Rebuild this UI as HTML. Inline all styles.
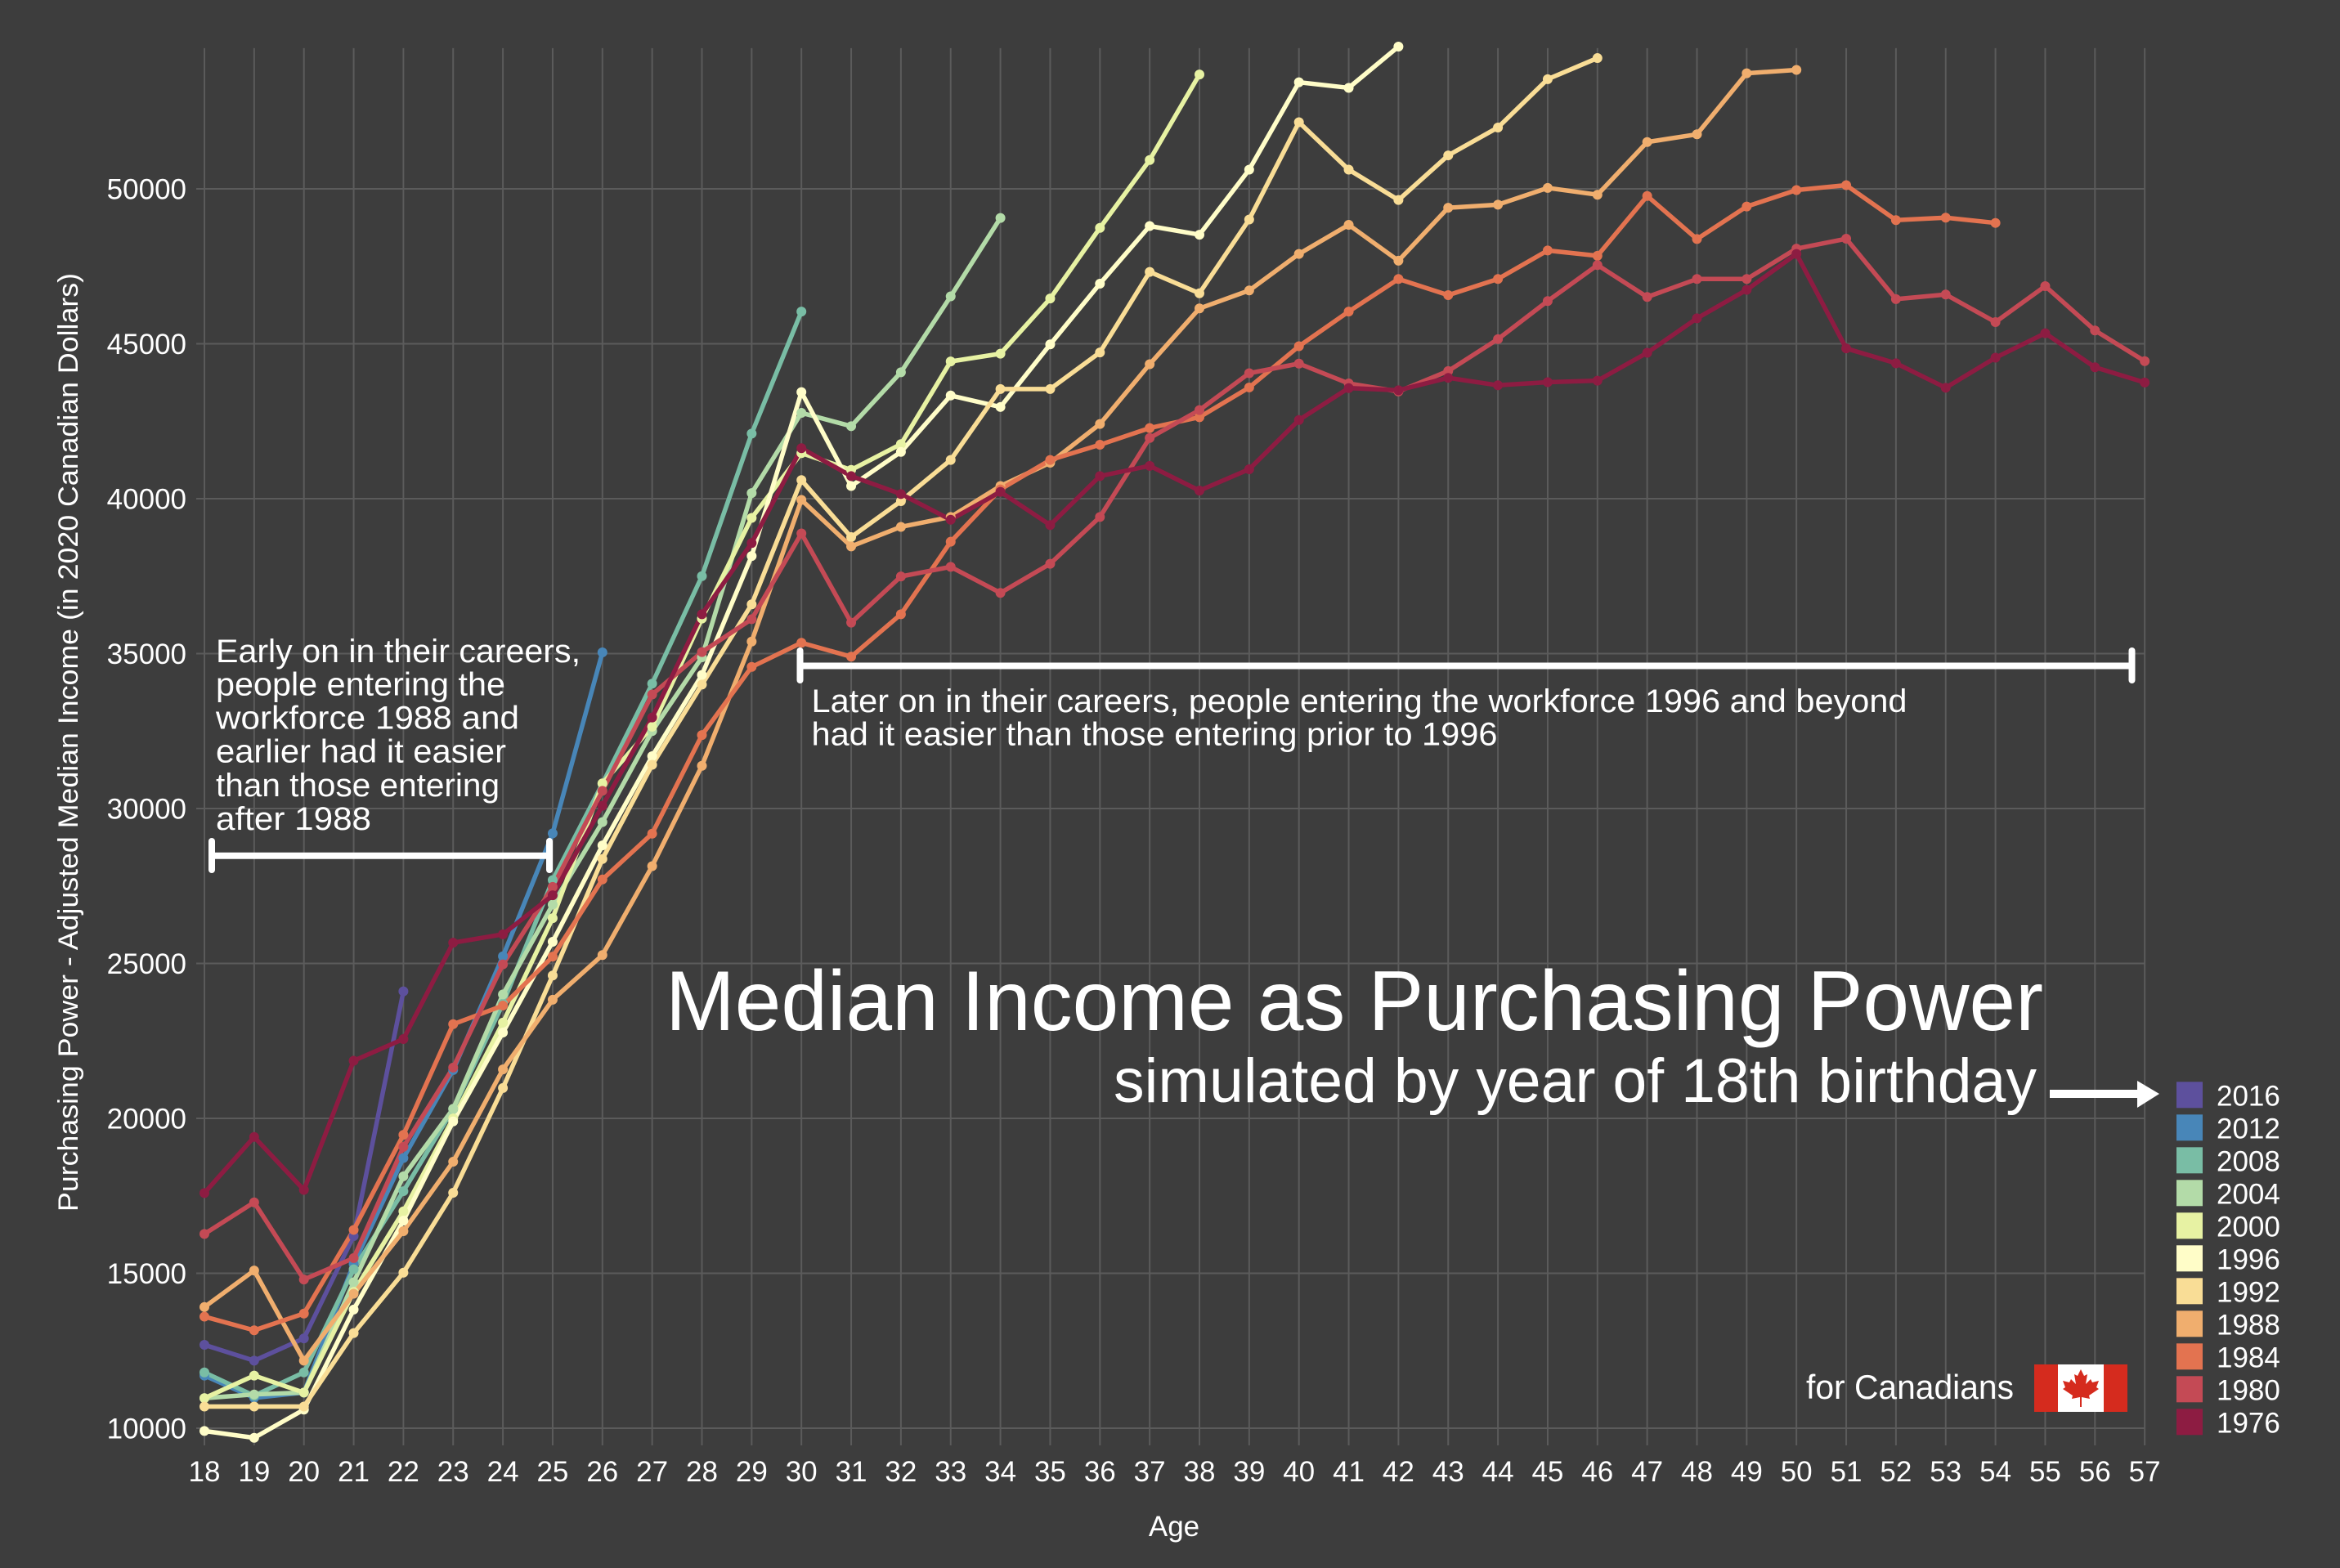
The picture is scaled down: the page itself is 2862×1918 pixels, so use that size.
<!DOCTYPE html>
<html><head><meta charset="utf-8"><style>
html,body{margin:0;padding:0;background:#3D3D3D;}
svg{display:block;}
text{font-family:"Liberation Sans",Arial,sans-serif;fill:#ffffff;}
.ln{fill:none;stroke-width:5.5;stroke-linejoin:round;stroke-linecap:round;}
.pt{fill:none;stroke-width:12;stroke-linecap:round;}
</style></head><body>
<svg width="2862" height="1918" viewBox="0 0 2862 1918" xmlns="http://www.w3.org/2000/svg">
<rect x="0" y="0" width="2862" height="1918" fill="#3D3D3D"/>
<g transform="matrix(60.85 0 0 -37.9 -845.3 2126)">
<path vector-effect="non-scaling-stroke" stroke="#5B5B5B" stroke-width="2" fill="none" d="M17.836 10H57M17.836 15H57M17.836 20H57M17.836 25H57M17.836 30H57M17.836 35H57M17.836 40H57M17.836 45H57M17.836 50H57
M18 9.446V54.54M19 9.446V54.54M20 9.446V54.54M21 9.446V54.54M22 9.446V54.54M23 9.446V54.54M24 9.446V54.54M25 9.446V54.54M26 9.446V54.54M27 9.446V54.54
M28 9.446V54.54M29 9.446V54.54M30 9.446V54.54M31 9.446V54.54M32 9.446V54.54M33 9.446V54.54M34 9.446V54.54M35 9.446V54.54M36 9.446V54.54M37 9.446V54.54
M38 9.446V54.54M39 9.446V54.54M40 9.446V54.54M41 9.446V54.54M42 9.446V54.54M43 9.446V54.54M44 9.446V54.54M45 9.446V54.54M46 9.446V54.54M47 9.446V54.54
M48 9.446V54.54M49 9.446V54.54M50 9.446V54.54M51 9.446V54.54M52 9.446V54.54M53 9.446V54.54M54 9.446V54.54M55 9.446V54.54M56 9.446V54.54M57 9.446V54.54"/>

<!-- lines -->
<polyline class="ln" vector-effect="non-scaling-stroke" stroke="#5D509D" points="18,12.69 19,12.18 20,12.90 21,16.2 22,24.10"/>
<polyline class="ln" vector-effect="non-scaling-stroke" stroke="#4886B8" points="18,11.70 19,10.98 20,11.15 21,15.3 22,18.72 23,21.56 24,25.23 25,29.20 26,35.04"/>
<polyline class="ln" vector-effect="non-scaling-stroke" stroke="#79BDA5" points="18,11.80 19,11.05 20,11.80 21,15.13 22,17.65 23,20.30 24,23.70 25,27.69 26,30.8 27,34.03 28,37.5 29,42.1 30,46.04"/>
<polyline class="ln" vector-effect="non-scaling-stroke" stroke="#B3DBA8" points="18,10.97 19,11.09 20,11.15 21,14.71 22,18.13 23,20.31 24,24.0 25,26.9 26,29.56 27,32.5 28,34.88 29,40.18 30,42.77 31,42.34 32,44.08 33,46.53 34,49.06"/>
<polyline class="ln" vector-effect="non-scaling-stroke" stroke="#E7F2A3" points="18,10.97 19,11.70 20,11.15 21,14.4 22,17.0 23,20.0 24,23.09 25,26.46 26,30.81 27,32.64 28,36.13 29,39.38 30,41.47 31,40.93 32,41.76 33,44.43 34,44.68 35,46.46 36,48.74 37,50.93 38,53.69"/>
<polyline class="ln" vector-effect="non-scaling-stroke" stroke="#FFFDC8" points="18,9.91 19,9.69 20,10.60 21,13.83 22,16.7 23,19.9 24,22.77 25,25.7 26,28.81 27,31.69 28,34.31 29,38.15 30,43.44 31,40.41 32,41.51 33,43.33 34,42.96 35,44.98 36,46.94 37,48.80 38,48.52 39,50.62 40,53.44 41,53.26 42,54.59"/>
<polyline class="ln" vector-effect="non-scaling-stroke" stroke="#F9DD96" points="18,10.70 19,10.70 20,10.70 21,13.07 22,15.02 23,17.60 24,20.98 25,24.61 26,28.37 27,31.41 28,34.0 29,36.59 30,40.60 31,38.76 32,39.92 33,41.25 34,43.54 35,43.54 36,44.72 37,47.32 38,46.63 39,49.01 40,52.15 41,50.62 42,49.64 43,51.08 44,51.98 45,53.54 46,54.22"/>
<polyline class="ln" vector-effect="non-scaling-stroke" stroke="#F0AE6E" points="18,13.91 19,15.09 20,12.18 21,14.34 22,16.36 23,18.60 24,21.58 25,23.83 26,25.27 27,28.14 28,31.38 29,35.39 30,39.96 31,38.46 32,39.09 33,39.41 34,40.41 35,41.16 36,42.41 37,44.34 38,46.14 39,46.72 40,47.90 41,48.84 42,47.68 43,49.39 44,49.49 45,50.03 46,49.81 47,51.51 48,51.76 49,53.73 50,53.84"/>
<polyline class="ln" vector-effect="non-scaling-stroke" stroke="#E37350" points="18,13.60 19,13.16 20,13.70 21,16.40 22,19.47 23,23.04 24,23.64 25,25.22 26,27.71 27,29.19 28,32.37 29,34.57 30,35.35 31,34.90 32,36.27 33,38.61 34,40.30 35,41.25 36,41.74 37,42.28 38,42.63 39,43.59 40,44.92 41,46.04 42,47.09 43,46.57 44,47.09 45,48.01 46,47.84 47,49.77 48,48.38 49,49.43 50,49.96 51,50.12 52,48.99 53,49.07 54,48.90"/>
<polyline class="ln" vector-effect="non-scaling-stroke" stroke="#C44A55" points="18,16.27 19,17.29 20,14.80 21,15.49 22,19.08 23,21.64 24,24.97 25,27.47 26,30.57 27,33.68 28,35.05 29,36.11 30,38.88 31,36.00 32,37.49 33,37.80 34,36.96 35,37.90 36,39.41 37,41.96 38,42.86 39,44.05 40,44.36 41,43.72 42,43.46 43,44.12 44,45.15 45,46.38 46,47.54 47,46.51 48,47.09 49,47.09 50,48.07 51,48.39 52,46.44 53,46.59 54,45.70 55,46.86 56,45.43 57,44.44"/>
<polyline class="ln" vector-effect="non-scaling-stroke" stroke="#8D1C42" points="18,17.59 19,19.40 20,17.69 21,21.86 22,22.56 23,25.67 24,25.94 25,27.20 26,30.09 27,32.94 28,36.27 29,38.57 30,41.63 31,40.73 32,40.15 33,39.32 34,40.22 35,39.15 36,40.73 37,41.06 38,40.26 39,40.95 40,42.54 41,43.57 42,43.50 43,43.90 44,43.66 45,43.76 46,43.81 47,44.71 48,45.82 49,46.74 50,47.90 51,44.85 52,44.37 53,43.58 54,44.55 55,45.34 56,44.24 57,43.75"/>

<!-- points -->
<path class="pt" vector-effect="non-scaling-stroke" stroke="#5D509D" d="M18 12.69h0M19 12.18h0M20 12.90h0M21 16.2h0M22 24.10h0"/>
<path class="pt" vector-effect="non-scaling-stroke" stroke="#4886B8" d="M18 11.70h0M19 10.98h0M20 11.15h0M21 15.3h0M22 18.72h0M23 21.56h0M24 25.23h0M25 29.20h0M26 35.04h0"/>
<path class="pt" vector-effect="non-scaling-stroke" stroke="#79BDA5" d="M18 11.80h0M19 11.05h0M20 11.80h0M21 15.13h0M22 17.65h0M23 20.30h0M24 23.70h0M25 27.69h0M26 30.8h0M27 34.03h0M28 37.5h0M29 42.1h0M30 46.04h0"/>
<path class="pt" vector-effect="non-scaling-stroke" stroke="#B3DBA8" d="M18 10.97h0M19 11.09h0M20 11.15h0M21 14.71h0M22 18.13h0M23 20.31h0M24 24.0h0M25 26.9h0M26 29.56h0M27 32.5h0M28 34.88h0M29 40.18h0M30 42.77h0M31 42.34h0M32 44.08h0M33 46.53h0M34 49.06h0"/>
<path class="pt" vector-effect="non-scaling-stroke" stroke="#E7F2A3" d="M18 10.97h0M19 11.70h0M20 11.15h0M21 14.4h0M22 17.0h0M23 20.0h0M24 23.09h0M25 26.46h0M26 30.81h0M27 32.64h0M28 36.13h0M29 39.38h0M30 41.47h0M31 40.93h0M32 41.76h0M33 44.43h0M34 44.68h0M35 46.46h0M36 48.74h0M37 50.93h0M38 53.69h0"/>
<path class="pt" vector-effect="non-scaling-stroke" stroke="#FFFDC8" d="M18 9.91h0M19 9.69h0M20 10.60h0M21 13.83h0M22 16.7h0M23 19.9h0M24 22.77h0M25 25.7h0M26 28.81h0M27 31.69h0M28 34.31h0M29 38.15h0M30 43.44h0M31 40.41h0M32 41.51h0M33 43.33h0M34 42.96h0M35 44.98h0M36 46.94h0M37 48.80h0M38 48.52h0M39 50.62h0M40 53.44h0M41 53.26h0M42 54.59h0"/>
<path class="pt" vector-effect="non-scaling-stroke" stroke="#F9DD96" d="M18 10.70h0M19 10.70h0M20 10.70h0M21 13.07h0M22 15.02h0M23 17.60h0M24 20.98h0M25 24.61h0M26 28.37h0M27 31.41h0M28 34.0h0M29 36.59h0M30 40.60h0M31 38.76h0M32 39.92h0M33 41.25h0M34 43.54h0M35 43.54h0M36 44.72h0M37 47.32h0M38 46.63h0M39 49.01h0M40 52.15h0M41 50.62h0M42 49.64h0M43 51.08h0M44 51.98h0M45 53.54h0M46 54.22h0"/>
<path class="pt" vector-effect="non-scaling-stroke" stroke="#F0AE6E" d="M18 13.91h0M19 15.09h0M20 12.18h0M21 14.34h0M22 16.36h0M23 18.60h0M24 21.58h0M25 23.83h0M26 25.27h0M27 28.14h0M28 31.38h0M29 35.39h0M30 39.96h0M31 38.46h0M32 39.09h0M33 39.41h0M34 40.41h0M35 41.16h0M36 42.41h0M37 44.34h0M38 46.14h0M39 46.72h0M40 47.90h0M41 48.84h0M42 47.68h0M43 49.39h0M44 49.49h0M45 50.03h0M46 49.81h0M47 51.51h0M48 51.76h0M49 53.73h0M50 53.84h0"/>
<path class="pt" vector-effect="non-scaling-stroke" stroke="#E37350" d="M18 13.60h0M19 13.16h0M20 13.70h0M21 16.40h0M22 19.47h0M23 23.04h0M24 23.64h0M25 25.22h0M26 27.71h0M27 29.19h0M28 32.37h0M29 34.57h0M30 35.35h0M31 34.90h0M32 36.27h0M33 38.61h0M34 40.30h0M35 41.25h0M36 41.74h0M37 42.28h0M38 42.63h0M39 43.59h0M40 44.92h0M41 46.04h0M42 47.09h0M43 46.57h0M44 47.09h0M45 48.01h0M46 47.84h0M47 49.77h0M48 48.38h0M49 49.43h0M50 49.96h0M51 50.12h0M52 48.99h0M53 49.07h0M54 48.90h0"/>
<path class="pt" vector-effect="non-scaling-stroke" stroke="#C44A55" d="M18 16.27h0M19 17.29h0M20 14.80h0M21 15.49h0M22 19.08h0M23 21.64h0M24 24.97h0M25 27.47h0M26 30.57h0M27 33.68h0M28 35.05h0M29 36.11h0M30 38.88h0M31 36.00h0M32 37.49h0M33 37.80h0M34 36.96h0M35 37.90h0M36 39.41h0M37 41.96h0M38 42.86h0M39 44.05h0M40 44.36h0M41 43.72h0M42 43.46h0M43 44.12h0M44 45.15h0M45 46.38h0M46 47.54h0M47 46.51h0M48 47.09h0M49 47.09h0M50 48.07h0M51 48.39h0M52 46.44h0M53 46.59h0M54 45.70h0M55 46.86h0M56 45.43h0M57 44.44h0"/>
<path class="pt" vector-effect="non-scaling-stroke" stroke="#8D1C42" d="M18 17.59h0M19 19.40h0M20 17.69h0M21 21.86h0M22 22.56h0M23 25.67h0M24 25.94h0M25 27.20h0M26 30.09h0M27 32.94h0M28 36.27h0M29 38.57h0M30 41.63h0M31 40.73h0M32 40.15h0M33 39.32h0M34 40.22h0M35 39.15h0M36 40.73h0M37 41.06h0M38 40.26h0M39 40.95h0M40 42.54h0M41 43.57h0M42 43.50h0M43 43.90h0M44 43.66h0M45 43.76h0M46 43.81h0M47 44.71h0M48 45.82h0M49 46.74h0M50 47.90h0M51 44.85h0M52 44.37h0M53 43.58h0M54 44.55h0M55 45.34h0M56 44.24h0M57 43.75h0"/>
</g>

<!-- y tick labels -->
<g font-size="35" text-anchor="end">
<text x="228" y="243.5">50000</text>
<text x="228" y="433">45000</text>
<text x="228" y="622.5">40000</text>
<text x="228" y="812">35000</text>
<text x="228" y="1001.5">30000</text>
<text x="228" y="1191">25000</text>
<text x="228" y="1380.5">20000</text>
<text x="228" y="1570">15000</text>
<text x="228" y="1759.5">10000</text>
</g>

<!-- x tick labels -->
<g font-size="35" text-anchor="middle">
<text x="250" y="1812">18</text>
<text x="310.85" y="1812">19</text>
<text x="371.7" y="1812">20</text>
<text x="432.55" y="1812">21</text>
<text x="493.4" y="1812">22</text>
<text x="554.25" y="1812">23</text>
<text x="615.1" y="1812">24</text>
<text x="675.95" y="1812">25</text>
<text x="736.8" y="1812">26</text>
<text x="797.65" y="1812">27</text>
<text x="858.5" y="1812">28</text>
<text x="919.35" y="1812">29</text>
<text x="980.2" y="1812">30</text>
<text x="1041.05" y="1812">31</text>
<text x="1101.9" y="1812">32</text>
<text x="1162.75" y="1812">33</text>
<text x="1223.6" y="1812">34</text>
<text x="1284.45" y="1812">35</text>
<text x="1345.3" y="1812">36</text>
<text x="1406.15" y="1812">37</text>
<text x="1467" y="1812">38</text>
<text x="1527.85" y="1812">39</text>
<text x="1588.7" y="1812">40</text>
<text x="1649.55" y="1812">41</text>
<text x="1710.4" y="1812">42</text>
<text x="1771.25" y="1812">43</text>
<text x="1832.1" y="1812">44</text>
<text x="1892.95" y="1812">45</text>
<text x="1953.8" y="1812">46</text>
<text x="2014.65" y="1812">47</text>
<text x="2075.5" y="1812">48</text>
<text x="2136.35" y="1812">49</text>
<text x="2197.2" y="1812">50</text>
<text x="2258.05" y="1812">51</text>
<text x="2318.9" y="1812">52</text>
<text x="2379.75" y="1812">53</text>
<text x="2440.6" y="1812">54</text>
<text x="2501.45" y="1812">55</text>
<text x="2562.3" y="1812">56</text>
<text x="2623.15" y="1812">57</text>
</g>

<!-- axis titles -->
<text x="1436" y="1879" font-size="35" text-anchor="middle">Age</text>
<text transform="translate(95,908) rotate(-90)" x="0" y="0" font-size="34" text-anchor="middle" textLength="1148" lengthAdjust="spacingAndGlyphs">Purchasing Power - Adjusted Median Income (in 2020 Canadian Dollars)</text>

<!-- left annotation -->
<g stroke="#ffffff" stroke-width="8" stroke-linecap="round" fill="none">
<line x1="259" y1="1046.7" x2="672" y2="1046.7"/>
<line x1="259" y1="1029" x2="259" y2="1064"/>
<line x1="672" y1="1029" x2="672" y2="1064"/>
<line x1="978.5" y1="814.5" x2="2607.5" y2="814.5"/>
<line x1="978.5" y1="796" x2="978.5" y2="832"/>
<line x1="2607.5" y1="796" x2="2607.5" y2="832"/>
</g>
<g font-size="40">
<text x="264" y="810" textLength="446" lengthAdjust="spacingAndGlyphs">Early on in their careers,</text>
<text x="264" y="850.5" textLength="354" lengthAdjust="spacingAndGlyphs">people entering the</text>
<text x="264" y="891.5" textLength="371" lengthAdjust="spacingAndGlyphs">workforce 1988 and</text>
<text x="264" y="932.5" textLength="355" lengthAdjust="spacingAndGlyphs">earlier had it easier</text>
<text x="264" y="974" textLength="347" lengthAdjust="spacingAndGlyphs">than those entering</text>
<text x="264" y="1015" textLength="190" lengthAdjust="spacingAndGlyphs">after 1988</text>
<text x="992.5" y="871" textLength="1340" lengthAdjust="spacingAndGlyphs">Later on in their careers, people entering the workforce 1996 and beyond</text>
<text x="992.5" y="911.7" textLength="839" lengthAdjust="spacingAndGlyphs">had it easier than those entering prior to 1996</text>
</g>

<!-- title -->
<text x="814" y="1260" font-size="104" textLength="1685" lengthAdjust="spacingAndGlyphs">Median Income as Purchasing Power</text>
<text x="1362" y="1348" font-size="76" textLength="1129" lengthAdjust="spacingAndGlyphs">simulated by year of 18th birthday</text>
<rect x="2507" y="1333" width="111" height="10" fill="#ffffff"/>
<polygon points="2614,1322 2641,1338 2614,1355" fill="#ffffff"/>

<!-- for Canadians + flag -->
<text x="2209" y="1711" font-size="42" textLength="254" lengthAdjust="spacingAndGlyphs">for Canadians</text>
<rect x="2488" y="1669" width="114" height="58" fill="#D52B1E"/>
<rect x="2517" y="1669" width="56" height="58" fill="#ffffff"/>
<polygon fill="#D52B1E" points="2545,1675 2549,1683 2553,1681 2551,1693 2557,1687 2559,1691 2567,1689 2564,1697 2567,1699 2555,1707 2556,1711 2546,1709 2546,1721 2544,1721 2544,1709 2534,1711 2535,1707 2523,1699 2526,1697 2523,1689 2531,1691 2533,1687 2539,1693 2537,1681 2541,1683"/>

<!-- legend -->
<rect x="2662" y="1323.3" width="32" height="32" fill="#5D509D"/>
<rect x="2662" y="1363.3" width="32" height="32" fill="#4886B8"/>
<rect x="2662" y="1403.3" width="32" height="32" fill="#79BDA5"/>
<rect x="2662" y="1443.3" width="32" height="32" fill="#B3DBA8"/>
<rect x="2662" y="1483.3" width="32" height="32" fill="#E7F2A3"/>
<rect x="2662" y="1523.3" width="32" height="32" fill="#FFFDC8"/>
<rect x="2662" y="1563.3" width="32" height="32" fill="#F9DD96"/>
<rect x="2662" y="1603.3" width="32" height="32" fill="#F0AE6E"/>
<rect x="2662" y="1643.3" width="32" height="32" fill="#E37350"/>
<rect x="2662" y="1683.3" width="32" height="32" fill="#C44A55"/>
<rect x="2662" y="1723.3" width="32" height="32" fill="#8D1C42"/>
<g font-size="35">
<text x="2711" y="1352.7">2016</text>
<text x="2711" y="1392.7">2012</text>
<text x="2711" y="1432.7">2008</text>
<text x="2711" y="1472.7">2004</text>
<text x="2711" y="1512.7">2000</text>
<text x="2711" y="1552.7">1996</text>
<text x="2711" y="1592.7">1992</text>
<text x="2711" y="1632.7">1988</text>
<text x="2711" y="1672.7">1984</text>
<text x="2711" y="1712.7">1980</text>
<text x="2711" y="1752.7">1976</text>
</g>
</svg>
</body></html>
